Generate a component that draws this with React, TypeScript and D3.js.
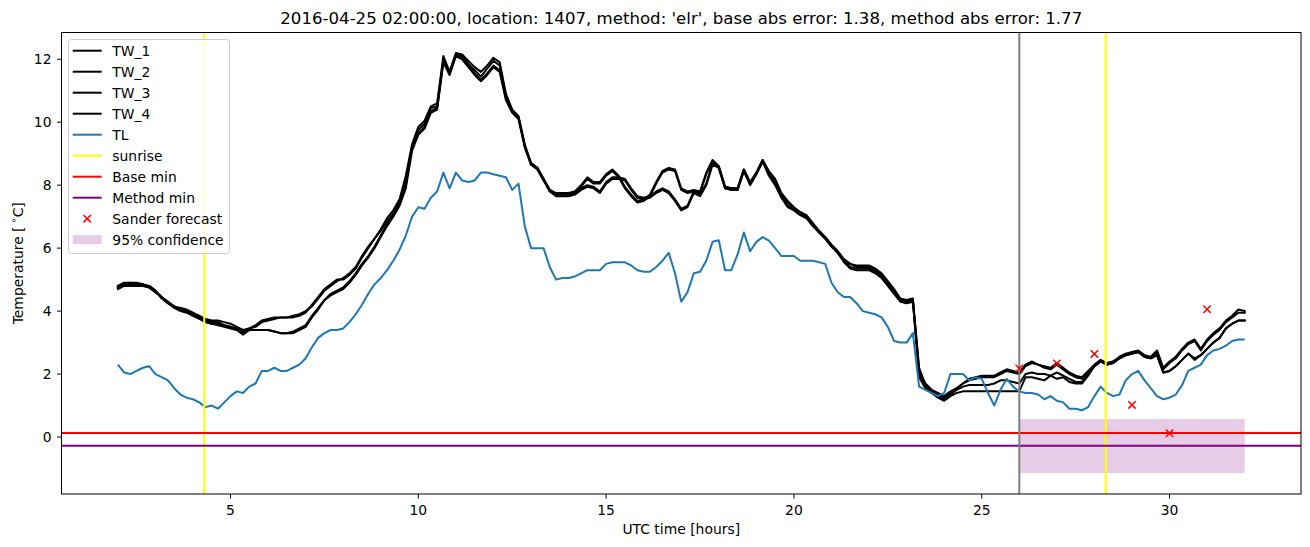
import React from "react";
import * as d3 from "d3";

// ---- data (10-minute samples starting at 02:00 UTC) ----
const START_HOUR = 2;
const STEP_HOURS = 1 / 6;

const TW_1 = [
  4.75, 4.85, 4.9, 4.9, 4.85, 4.8,
  4.65, 4.45, 4.3, 4.15, 4.1, 4.05,
  3.95, 3.85, 3.75, 3.7, 3.7, 3.65,
  3.6, 3.5, 3.4, 3.45, 3.55, 3.7,
  3.75, 3.8, 3.8, 3.8, 3.85, 3.9,
  4.0, 4.15, 4.4, 4.65, 4.8, 4.95,
  5.05, 5.2, 5.4, 5.75, 6.05, 6.3,
  6.6, 6.95, 7.2, 7.55, 8.3, 9.3,
  9.85, 10.05, 10.5, 10.6, 12.1, 11.6,
  12.2, 12.15, 11.95, 11.75, 11.6, 11.8,
  12.05, 11.9, 10.9, 10.4, 10.2, 9.3,
  8.7, 8.55, 8.2, 7.85, 7.75, 7.75,
  7.75, 7.8, 8.0, 8.25, 8.1, 8.1,
  8.35, 8.5, 8.3, 7.95, 7.7, 7.5,
  7.55, 7.7, 8.1, 8.45, 8.55, 8.5,
  7.9, 7.8, 7.85, 7.8, 8.4, 8.8,
  8.6, 7.95, 7.9, 7.9, 8.5, 8.1,
  8.4, 8.8, 8.45, 8.2, 7.75, 7.5,
  7.3, 7.15, 7.05, 6.8, 6.55, 6.35,
  6.1, 5.9, 5.65, 5.5, 5.45, 5.45,
  5.45, 5.35, 5.2, 4.95, 4.7, 4.4,
  4.35, 4.4, 2.1, 1.7, 1.5, 1.4,
  1.3, 1.45, 1.55, 1.7, 1.85, 1.9,
  1.95, 1.95, 1.95, 2.05, 2.15, 2.1,
  2.05, 2.3, 2.4, 2.3, 2.25, 2.2,
  2.35, 2.2, 2.05, 1.95, 1.9, 2.1,
  2.3, 2.45, 2.35, 2.4, 2.55, 2.65,
  2.7, 2.75, 2.6, 2.55, 2.75, 2.2,
  2.4, 2.55, 2.8, 3.0, 3.1, 2.8,
  3.1, 3.3, 3.45, 3.7, 3.85, 4.05,
  4.0,
];

const TW_2 = [
  4.8, 4.9, 4.9, 4.85, 4.85, 4.75,
  4.6, 4.45, 4.25, 4.15, 4.05, 4.0,
  3.9, 3.85, 3.7, 3.65, 3.65, 3.55,
  3.5, 3.4, 3.35, 3.45, 3.5, 3.65,
  3.7, 3.75, 3.8, 3.8, 3.8, 3.85,
  3.95, 4.2, 4.45, 4.7, 4.85, 5.0,
  5.0, 5.15, 5.35, 5.7, 6.0, 6.3,
  6.55, 6.85, 7.1, 7.45, 8.1, 9.2,
  9.75, 9.95, 10.45, 10.5, 12.0, 11.6,
  12.15, 12.1, 11.85, 11.65, 11.45, 11.7,
  11.95, 11.8, 10.8, 10.35, 10.15, 9.25,
  8.65, 8.55, 8.2, 7.8, 7.7, 7.7,
  7.7, 7.75, 7.95, 8.2, 8.05, 8.05,
  8.3, 8.45, 8.25, 7.9, 7.65, 7.45,
  7.5, 7.65, 8.05, 8.4, 8.5, 8.45,
  7.85, 7.75, 7.8, 7.75, 8.35, 8.75,
  8.55, 7.9, 7.85, 7.85, 8.45, 8.05,
  8.35, 8.75, 8.4, 8.15, 7.7, 7.45,
  7.25, 7.1, 7.0, 6.75, 6.5, 6.3,
  6.05, 5.85, 5.6, 5.5, 5.4, 5.4,
  5.4, 5.3, 5.15, 4.9, 4.65, 4.35,
  4.3, 4.35, 2.2, 1.65, 1.45, 1.35,
  1.25, 1.4, 1.55, 1.7, 1.8, 1.85,
  1.9, 1.9, 1.9, 2.0, 2.1, 2.05,
  2.0, 2.25, 2.35, 2.3, 2.2, 2.15,
  2.3, 2.15, 2.0, 1.9, 1.85, 2.05,
  2.25, 2.4, 2.3, 2.35, 2.5, 2.6,
  2.65, 2.7, 2.55, 2.5, 2.7, 2.15,
  2.35, 2.5, 2.75, 2.95, 3.05, 2.75,
  3.05, 3.25, 3.4, 3.65, 3.8, 3.95,
  3.95,
];

const TW_3 = [
  4.7, 4.8, 4.8, 4.8, 4.8, 4.75,
  4.6, 4.45, 4.25, 4.15, 4.05, 4.0,
  3.9, 3.8, 3.65, 3.6, 3.55, 3.5,
  3.45, 3.4, 3.25, 3.4, 3.4, 3.4,
  3.4, 3.35, 3.3, 3.3, 3.3, 3.4,
  3.5, 3.8, 4.05, 4.35, 4.5, 4.6,
  4.7, 4.9, 5.15, 5.45, 5.7, 6.0,
  6.35, 6.7, 7.0, 7.35, 7.9, 9.1,
  9.6, 9.8, 10.3, 10.4, 11.9, 11.5,
  12.1, 12.0, 11.75, 11.5, 11.3, 11.5,
  11.75, 11.6, 10.7, 10.3, 10.1, 9.2,
  8.65, 8.5, 8.15, 7.8, 7.65, 7.65,
  7.65, 7.7, 7.85, 7.95, 7.9, 7.75,
  8.05, 8.2, 8.2, 8.15, 7.85, 7.6,
  7.55, 7.6, 7.75, 7.85, 7.75, 7.5,
  7.2, 7.3, 7.75, 7.65, 8.0, 8.65,
  8.55, 7.9, 7.85, 7.85, 8.45, 8.0,
  8.35, 8.75, 8.3, 8.0, 7.6, 7.3,
  7.2, 7.05, 6.95, 6.7, 6.5, 6.3,
  6.05, 5.85, 5.55, 5.35, 5.3, 5.3,
  5.3, 5.2, 5.05, 4.8, 4.55, 4.3,
  4.25, 4.3, 2.0, 1.6, 1.4, 1.3,
  1.2, 1.35, 1.5, 1.6, 1.65, 1.65,
  1.65, 1.65, 1.7, 1.8, 1.8, 1.75,
  1.7, 2.0, 2.05, 2.0, 2.0, 1.95,
  2.05, 1.95, 1.85, 1.75, 1.75, 2.0,
  2.25, 2.4, 2.3, 2.4, 2.5, 2.6,
  2.65, 2.7, 2.55, 2.5, 2.6, 2.05,
  2.1, 2.25, 2.45, 2.65, 2.5, 2.6,
  2.8, 3.0, 3.15, 3.45, 3.6, 3.7,
  3.7,
];

const TW_4 = [
  4.75, 4.85, 4.85, 4.8, 4.8, 4.8,
  4.65, 4.4, 4.25, 4.1, 4.0, 3.95,
  3.85, 3.75, 3.65, 3.6, 3.6, 3.55,
  3.5, 3.45, 3.3, 3.4, 3.4, 3.4,
  3.4, 3.35, 3.3, 3.3, 3.35, 3.45,
  3.55, 3.85, 4.1, 4.35, 4.55, 4.65,
  4.75, 4.95, 5.2, 5.5, 5.75, 6.05,
  6.4, 6.75, 7.05, 7.4, 8.0, 9.2,
  9.65, 9.85, 10.35, 10.45, 11.95, 11.55,
  12.15, 12.05, 11.8, 11.55, 11.35, 11.55,
  11.8, 11.65, 10.75, 10.35, 10.15, 9.25,
  8.7, 8.55, 8.2, 7.85, 7.7, 7.7,
  7.7, 7.75, 7.9, 8.0, 7.95, 7.8,
  8.1, 8.25, 8.25, 8.2, 7.9, 7.65,
  7.6, 7.65, 7.8, 7.9, 7.8, 7.55,
  7.25, 7.35, 7.8, 7.7, 8.05, 8.7,
  8.6, 7.95, 7.9, 7.9, 8.5, 8.05,
  8.4, 8.8, 8.35, 8.05, 7.65, 7.35,
  7.25, 7.1, 7.0, 6.75, 6.55, 6.35,
  6.1, 5.9, 5.6, 5.4, 5.35, 5.35,
  5.35, 5.25, 5.1, 4.85, 4.6, 4.35,
  4.3, 4.35, 1.9, 1.55, 1.4, 1.25,
  1.15, 1.3, 1.4, 1.45, 1.45, 1.45,
  1.45, 1.45, 1.45, 1.45, 1.45, 1.45,
  1.45, 1.9, 1.9, 1.85, 1.8, 1.95,
  1.85, 1.9, 1.75, 1.7, 1.7, 1.95,
  2.25, 2.4, 2.3, 2.35, 2.5, 2.6,
  2.65, 2.7, 2.55, 2.5, 2.6, 2.05,
  2.1, 2.25, 2.45, 2.65, 2.45, 2.6,
  2.8, 3.0, 3.15, 3.45, 3.6, 3.7,
  3.7,
];

const TL = [
  2.3, 2.05, 2.0, 2.1, 2.2, 2.25,
  2.0, 1.9, 1.8, 1.55, 1.35, 1.25,
  1.2, 1.1, 0.95, 1.0, 0.9, 1.1,
  1.3, 1.45, 1.4, 1.6, 1.7, 2.1,
  2.1, 2.2, 2.1, 2.1, 2.2, 2.3,
  2.5, 2.85, 3.15, 3.3, 3.4, 3.4,
  3.45, 3.65, 3.9, 4.2, 4.55, 4.85,
  5.05, 5.3, 5.6, 5.95, 6.4, 7.0,
  7.3, 7.25, 7.6, 7.8, 8.4, 7.9,
  8.4, 8.15, 8.1, 8.15, 8.4, 8.4,
  8.35, 8.3, 8.25, 7.85, 8.05, 6.7,
  6.0, 6.0, 6.0, 5.4, 5.0, 5.05,
  5.05, 5.1, 5.2, 5.3, 5.3, 5.3,
  5.5, 5.55, 5.55, 5.55, 5.45, 5.3,
  5.25, 5.25, 5.4, 5.6, 5.85, 5.2,
  4.3, 4.6, 5.2, 5.25, 5.6, 6.2,
  6.25, 5.3, 5.3, 5.8, 6.5, 5.9,
  6.2, 6.35, 6.24, 6.0, 5.75, 5.75,
  5.75, 5.6, 5.6, 5.6, 5.55, 5.5,
  4.9, 4.6, 4.45, 4.45, 4.25, 4.0,
  3.95, 3.9, 3.8, 3.5, 3.05, 3.0,
  3.0, 3.3, 1.6, 1.5, 1.4, 1.3,
  1.4, 2.0, 2.0, 2.0, 1.8, 1.9,
  1.85, 1.4, 1.0, 1.5, 1.85, 1.6,
  1.45, 1.4, 1.4, 1.35, 1.2, 1.3,
  1.15, 1.1, 0.9, 0.9, 0.85, 0.95,
  1.3, 1.6, 1.4, 1.3, 1.35, 1.8,
  2.0, 2.1, 1.8, 1.55, 1.3, 1.2,
  1.25, 1.35, 1.65, 2.1, 2.2, 2.3,
  2.6, 2.75, 2.8, 2.9, 3.05, 3.1,
  3.1,
];

const SUNRISE_HOURS = [4.3, 28.3];
const FORECAST_START_HOUR = 26;
const BASE_MIN = 0.13;
const METHOD_MIN = -0.28;
const SANDER_HOURS = [26, 27, 28, 29, 30, 31];
const SANDER_VALUES = [2.18, 2.34, 2.64, 1.02, 0.12, 4.06];
const CONF_HOURS = [26, 32];
const CONF_LOW = -1.145;
const CONF_HIGH = 0.57;

const X_TICKS = [5, 10, 15, 20, 25, 30];
const Y_TICKS = [0, 2, 4, 6, 8, 10, 12];
const X_DOMAIN = [0.5, 33.5];
const Y_DOMAIN = [-1.81, 12.85];

const TITLE =
  "2016-04-25 02:00:00, location: 1407, method: 'elr', base abs error: 1.38, method abs error: 1.77";

const TW_SERIES = [
  { name: "TW_1", values: TW_1 },
  { name: "TW_2", values: TW_2 },
  { name: "TW_3", values: TW_3 },
  { name: "TW_4", values: TW_4 },
];

const FONT = "'DejaVu Sans', sans-serif";
const BLUE = "#1f77b4";
const TICK_FS = 13.9;
const TITLE_FS = 16.6;

export default function App() {
  const W = 1310;
  const H = 547;
  const m = { left: 61.5, right: 1301, top: 32.5, bottom: 494 };
  const x = d3.scaleLinear().domain(X_DOMAIN).range([m.left, m.right]);
  const y = d3.scaleLinear().domain(Y_DOMAIN).range([m.bottom, m.top]);

  const mkLine = (vals: number[]) =>
    d3
      .line<number>()
      .x((_, i) => x(START_HOUR + i * STEP_HOURS))
      .y((d) => y(d))(vals) || "";

  const legendItems = [
    { label: "TW_1", kind: "line", color: "#000" },
    { label: "TW_2", kind: "line", color: "#000" },
    { label: "TW_3", kind: "line", color: "#000" },
    { label: "TW_4", kind: "line", color: "#000" },
    { label: "TL", kind: "line", color: BLUE },
    { label: "sunrise", kind: "line", color: "#ffff00" },
    { label: "Base min", kind: "line", color: "#ff0000" },
    { label: "Method min", kind: "line", color: "#800080" },
    { label: "Sander forecast", kind: "marker", color: "#ff0000" },
    { label: "95% confidence", kind: "patch", color: "#800080" },
  ];

  const cross = (cx: number, cy: number, r: number) =>
    `M${cx - r},${cy - r}L${cx + r},${cy + r}M${cx - r},${cy + r}L${cx + r},${cy - r}`;

  return (
    <svg
      width={W}
      height={H}
      style={{ position: "absolute", left: 0, top: 0, background: "#fff" }}
      fontFamily={FONT}
    >
      <defs>
        <clipPath id="plotclip">
          <rect x={m.left} y={m.top} width={m.right - m.left} height={m.bottom - m.top} />
        </clipPath>
      </defs>
      <rect x={0} y={0} width={W} height={H} fill="#fff" />

      <g clipPath="url(#plotclip)">
        <rect
          x={x(CONF_HOURS[0])}
          y={y(CONF_HIGH)}
          width={x(CONF_HOURS[1]) - x(CONF_HOURS[0])}
          height={y(CONF_LOW) - y(CONF_HIGH)}
          fill="#800080"
          fillOpacity={0.2}
        />
        {TW_SERIES.map((s) => (
          <path
            key={s.name}
            d={mkLine(s.values)}
            fill="none"
            stroke="#000"
            strokeWidth={2}
            strokeLinejoin="round"
            strokeLinecap="square"
          />
        ))}
        <path d={mkLine(TL)} fill="none" stroke={BLUE} strokeWidth={2} strokeLinejoin="round" />
        {SUNRISE_HOURS.map((h) => (
          <line key={h} x1={x(h)} x2={x(h)} y1={m.top} y2={m.bottom} stroke="#ffff00" strokeWidth={2} />
        ))}
        <line x1={m.left} x2={m.right} y1={y(BASE_MIN)} y2={y(BASE_MIN)} stroke="#ff0000" strokeWidth={2} />
        <line x1={m.left} x2={m.right} y1={y(METHOD_MIN)} y2={y(METHOD_MIN)} stroke="#800080" strokeWidth={2} />
        <line
          x1={x(FORECAST_START_HOUR)}
          x2={x(FORECAST_START_HOUR)}
          y1={m.top}
          y2={m.bottom}
          stroke="#808080"
          strokeWidth={2}
        />
        {SANDER_HOURS.map((h, i) => (
          <path key={h} d={cross(x(h), y(SANDER_VALUES[i]), 3.7)} stroke="#ff0000" strokeWidth={1.5} fill="none" />
        ))}
      </g>

      <rect
        x={m.left}
        y={m.top}
        width={m.right - m.left}
        height={m.bottom - m.top}
        fill="none"
        stroke="#000"
        strokeWidth={1}
      />

      {X_TICKS.map((t) => (
        <g key={"x" + t}>
          <line x1={x(t)} x2={x(t)} y1={m.bottom} y2={m.bottom + 4.5} stroke="#000" strokeWidth={1} />
          <text x={x(t)} y={515} fontSize={TICK_FS} textAnchor="middle" fill="#000">
            {t}
          </text>
        </g>
      ))}
      {Y_TICKS.map((t) => (
        <g key={"y" + t}>
          <line x1={m.left - 4.5} x2={m.left} y1={y(t)} y2={y(t)} stroke="#000" strokeWidth={1} />
          <text x={51.5} y={y(t)} dy="0.36em" fontSize={TICK_FS} textAnchor="end" fill="#000">
            {t}
          </text>
        </g>
      ))}

      <text x={(m.left + m.right) / 2} y={24} fontSize={TITLE_FS} textAnchor="middle" fill="#000">
        {TITLE}
      </text>
      <text x={(m.left + m.right) / 2} y={533.5} fontSize={TICK_FS} textAnchor="middle" fill="#000">
        UTC time [hours]
      </text>
      <text
        transform={`translate(22.5, ${(m.top + m.bottom) / 2}) rotate(-90)`}
        fontSize={TICK_FS}
        textAnchor="middle"
        fill="#000"
      >
        Temperature [
        <tspan fontSize={9.7} dy={-5.5}>
          {" ∘"}
        </tspan>
        <tspan dy={5.5}>C]</tspan>
      </text>

      <g>
        <rect x={68.5} y={39.5} width={161} height={214} rx={3} ry={3} fill="#fff" fillOpacity={0.8} stroke="#cccccc" strokeWidth={1} />
        {legendItems.map((it, i) => {
          const cy = 50.7 + i * 21.0;
          return (
            <g key={it.label}>
              {it.kind === "line" && (
                <line x1={72.7} x2={101.7} y1={cy} y2={cy} stroke={it.color} strokeWidth={2} />
              )}
              {it.kind === "marker" && (
                <path d={cross(87.2, cy, 3.7)} stroke={it.color} strokeWidth={1.5} fill="none" />
              )}
              {it.kind === "patch" && (
                <rect x={72.7} y={cy - 4.5} width={29} height={9} fill={it.color} fillOpacity={0.2} />
              )}
              <text x={112.3} y={cy} dy="0.36em" fontSize={TICK_FS} fill="#000">
                {it.label}
              </text>
            </g>
          );
        })}
      </g>
    </svg>
  );
}
